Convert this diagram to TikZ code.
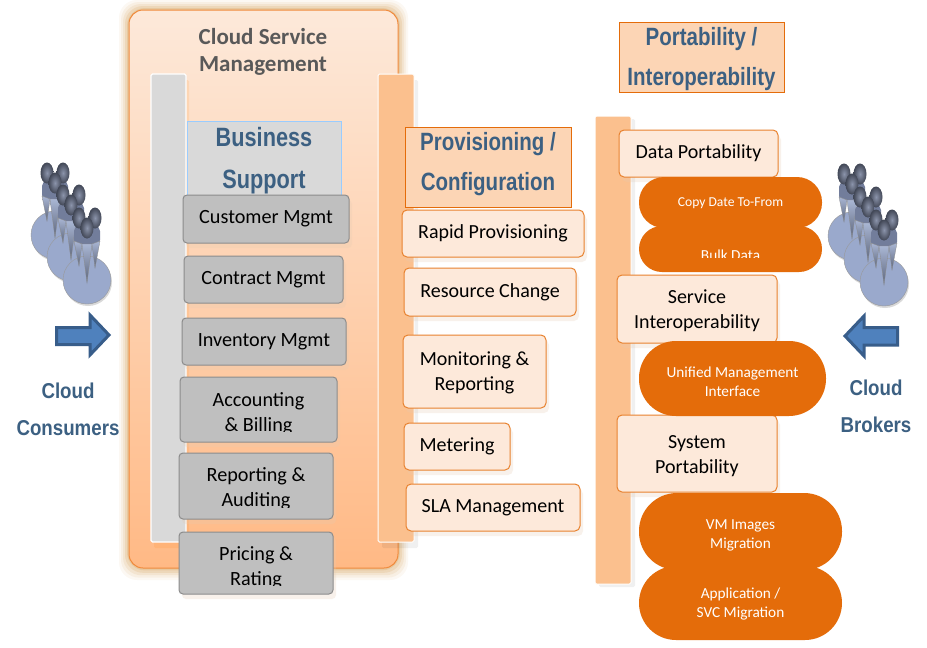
\documentclass[tikz,border=0pt]{standalone}
\usepackage{fontspec}
\setmainfont{Carlito}
\newfontfamily\headfont{Liberation Sans}[FakeStretch=0.82]
\newfontfamily\sidefont{Liberation Sans}[FakeStretch=0.87]
\usetikzlibrary{shadows}
\definecolor{glow}{HTML}{D9A35E}
\definecolor{panelline}{HTML}{F08A3C}
\definecolor{panelend}{HTML}{FFB985}
\definecolor{peachbar}{HTML}{FBC08E}
\definecolor{peachbox}{HTML}{FDE9DA}
\definecolor{headbox}{HTML}{FCD5B5}
\definecolor{darkorange}{HTML}{E46C0A}
\definecolor{steel}{HTML}{3C6082}
\definecolor{slatetext}{HTML}{595959}
\definecolor{discblue}{HTML}{9AA9CC}
\definecolor{torso}{HTML}{727D9B}
\definecolor{headgray}{HTML}{77819C}
\definecolor{arrowblue}{HTML}{4F81BD}
\definecolor{arrowline}{HTML}{385D8A}
\tikzset{
	softshadow/.style={general shadow={shadow xshift=3pt, shadow yshift=-5pt, fill=black!35!orange!30, opacity=.25}},
	graybox/.style={draw=black!45, line width=1pt, fill=black!25, rounded corners=4pt, softshadow, align=center, font=\fontsize{20.2}{25}\selectfont},
	graytext/.style={align=center, font=\fontsize{20.2}{25}\selectfont},
	peachnode/.style={draw=darkorange!85, line width=1pt, fill=peachbox, rounded corners=5pt, softshadow, align=center, font=\fontsize{20}{25}\selectfont},
	peachtext/.style={align=center, font=\fontsize{20}{25}\selectfont},
	headnode/.style={draw=darkorange, line width=.8pt, fill=headbox},
	headtext/.style={align=center, text=steel, font=\headfont\bfseries\fontsize{25}{40}\selectfont},
	pill/.style={fill=darkorange, rounded corners=#1},
	pilltext/.style={text=white, align=center, font=\fontsize{15.3}{19}\selectfont},
	sidelabel/.style={text=steel, align=center, font=\sidefont\bfseries\fontsize{21.5}{37}\selectfont},
	blueblade/.style={top color=discblue!85!white, bottom color=discblue!60!black, draw=black!45, line width=.3pt},
	darkhead/.style={inner color=headgray!85!white, outer color=headgray!55!black},
	pics/person/.style={code={
		\fill[torso, rounded corners=5pt] (-13,0) -- (13,0) -- (13,19) -- (-13,19) -- cycle;
		\shade[blueblade] (-13,15) -- (-5,18) -- (-8,40) -- cycle;
		\shade[blueblade] (-5,18) -- (5,18) -- (0,57) -- cycle;
		\shade[blueblade] (5,18) -- (13,15) -- (8,42) -- cycle;
		\shade[darkhead] (-8,-8) ellipse (6.5 and 10.5);
		\shade[darkhead] (8,-8) ellipse (6.5 and 10.5);
		\shade[darkhead] (0,2) ellipse (6.5 and 10.5);
	}},
}

\begin{document}
\begin{tikzpicture}[x=1pt, y=-1pt]
	\useasboundingbox[fill=white] (0,0) rectangle (927,648);

	% Glow round the main panel
	\foreach \g/\o in {10/.07,8/.1,6/.14,4/.2,2/.28}
	\fill[glow, opacity=\o, rounded corners=18pt] ({129-\g},{10-\g}) rectangle ({398+\g},{568+1.2*\g});
	\draw[panelline, line width=1pt, rounded corners=14pt, top color=peachbox, bottom color=panelend] (129,10) rectangle (398,568);

	% Bars
	\draw[white, line width=1.2pt, fill=black!15, rounded corners=1.5pt, general shadow={shadow xshift=3pt, shadow yshift=-6pt, fill=orange, opacity=.12}] (151,74) rectangle (186,542);
	\draw[white, line width=1pt, fill=peachbar, rounded corners=1.5pt, general shadow={shadow xshift=4pt, shadow yshift=-6pt, fill=black, opacity=.06}] (378,74) rectangle (414,542);
	\draw[white, line width=1pt, fill=peachbar, rounded corners=1.5pt, general shadow={shadow xshift=4pt, shadow yshift=-3pt, fill=black, opacity=.06}] (595,116) rectangle (631,584);

	% Titles
	\node[text=slatetext, align=center, font=\bfseries\fontsize{23}{27}\selectfont] (titlemgmt) at (263,52) {Cloud Service\\Management};
	\node[draw=blue!50!cyan!40, line width=.7pt, fill=black!15, text=steel, align=center, font=\headfont\bfseries\fontsize{26.5}{42}\selectfont, minimum width=154pt, minimum height=80pt] (business) at (264,161) {Business\\Support};
	\node[headnode, minimum width=166pt, minimum height=80pt, label={[headtext, yshift=3pt]center:{Provisioning /\\Configuration}}] (provisioning) at (488,167) {};
	\node[headnode, minimum width=165pt, minimum height=70pt, label={[headtext, yshift=-2pt]center:{Portability /\\Interoperability}}] (portability) at (701.5,57) {};

	% Business support items
	\node[graybox, minimum width=166pt, minimum height=48pt] (customer) at (266,219) {Customer Mgmt};
	\node[graybox, minimum width=159pt, minimum height=47pt] (contract) at (263.5,279.5) {Contract Mgmt};
	\node[graybox, minimum width=164pt, minimum height=47pt] (inventory) at (264,341.5) {Inventory Mgmt};
	\node[graybox, minimum width=157pt, minimum height=65pt] (accounting) at (258.5,409.5) {};
	\node[graybox, minimum width=154pt, minimum height=66pt] (reporting) at (256,486) {};
	\node[graybox, minimum width=154pt, minimum height=62pt] (pricing) at (256,563) {};

	% Provisioning items
	\node[peachnode, minimum width=182pt, minimum height=47pt] (rapid) at (493,233.5) {Rapid Provisioning};
	\node[peachnode, minimum width=172pt, minimum height=48pt] (resource) at (490,292) {Resource Change};
	\node[peachnode, minimum width=143pt, minimum height=73pt, label={[peachtext, yshift=-1pt]center:{Monitoring \&\\Reporting}}] (monitoring) at (474.5,371.5) {};
	\node[peachnode, minimum width=106pt, minimum height=47pt] (metering) at (457,446.5) {Metering};
	\node[peachnode, minimum width=174pt, minimum height=47pt] (sla) at (493,507.5) {SLA Management};

	% Portability items
	\node[peachnode, minimum width=159pt, minimum height=47pt] (dataport) at (698.5,153.5) {Data Portability};
	\node[peachnode, minimum width=160pt, minimum height=68pt, label={[peachtext, yshift=-2pt]center:{Service\\Interoperability}}] (service) at (697,309) {};
	\node[peachnode, minimum width=160pt, minimum height=77pt, label={[peachtext, yshift=-3pt]center:{System\\Portability}}] (system) at (697,453.5) {};

	\node[pill=25pt, minimum width=183pt, minimum height=51pt, label={[pilltext, font=\fontsize{13.6}{15}\selectfont, yshift=-1pt]center:Copy Date To-From}] (copydata) at (730.5,202.5) {};
	\node[pill=23pt, minimum width=183pt, minimum height=46pt] (bulkdata) at (730.5,249) {};
	\node[pill=37pt, minimum width=187pt, minimum height=75pt, label={[pilltext, yshift=-3pt]center:{Unified Management\\Interface}}] (unified) at (732.5,378.5) {};
	\node[pill=38pt, minimum width=203pt, minimum height=77pt, label={[pilltext, yshift=-4pt]center:{VM Images\\Migration}}] (vmimages) at (740.5,531.5) {};
	\node[pill=37pt, minimum width=203pt, minimum height=74pt, label={[pilltext, yshift=-1pt]center:{Application /\\SVC Migration}}] (application) at (740.5,603) {};

	% Text cut off at the lower edge
	\begin{scope}
		\clip (180,377) rectangle (337,431);
		\node[graytext] (accountingtext) at (258.5,414) {Accounting\\\& Billing};
	\end{scope}
	\begin{scope}
		\clip (179,453) rectangle (333,507);
		\node[graytext] (reportingtext) at (256,489) {Reporting \&\\Auditing};
	\end{scope}
	\begin{scope}
		\clip (179,532) rectangle (333,585);
		\node[graytext] (pricingtext) at (256,568) {Pricing \&\\Rating};
	\end{scope}
	\begin{scope}
		\clip (639,226) rectangle (822,257);
		\node[pilltext] (bulktext) at (730.5,255) {Bulk Data};
	\end{scope}

	% Consumers on the left
	\foreach \x/\y in {55/235,71/257,87/280}{
		\fill[discblue, draw=black!40, general shadow={shadow xshift=1pt, shadow yshift=-2pt, fill=black, opacity=.15}] (\x,\y) circle (24);
		\pic at ({\x},{\y-54}) {person};
	}
	% Brokers on the right
	\foreach \x/\y in {852/236,868/259,884/282}{
		\fill[discblue, draw=black!40, general shadow={shadow xshift=1pt, shadow yshift=-2pt, fill=black, opacity=.15}] (\x,\y) circle (24);
		\pic at ({\x},{\y-54}) {person};
	}

	% Arrows
	\draw[arrowline, line width=3pt, fill=arrowblue, line join=miter] (56.5,327.5) -- (90,327.5) -- (90,315) -- (109,335) -- (90,355) -- (90,344.5) -- (56.5,344.5) -- cycle;
	\draw[arrowline, line width=3pt, fill=arrowblue, line join=miter] (897.5,327.5) -- (864,327.5) -- (864,316) -- (845,336) -- (864,356) -- (864,345) -- (897.5,345) -- cycle;

	% Side labels
	\node[sidelabel] (consumers) at (68,409) {Cloud\\Consumers};
	\node[sidelabel] (brokers) at (876,406) {Cloud\\Brokers};
\end{tikzpicture}
\end{document}
